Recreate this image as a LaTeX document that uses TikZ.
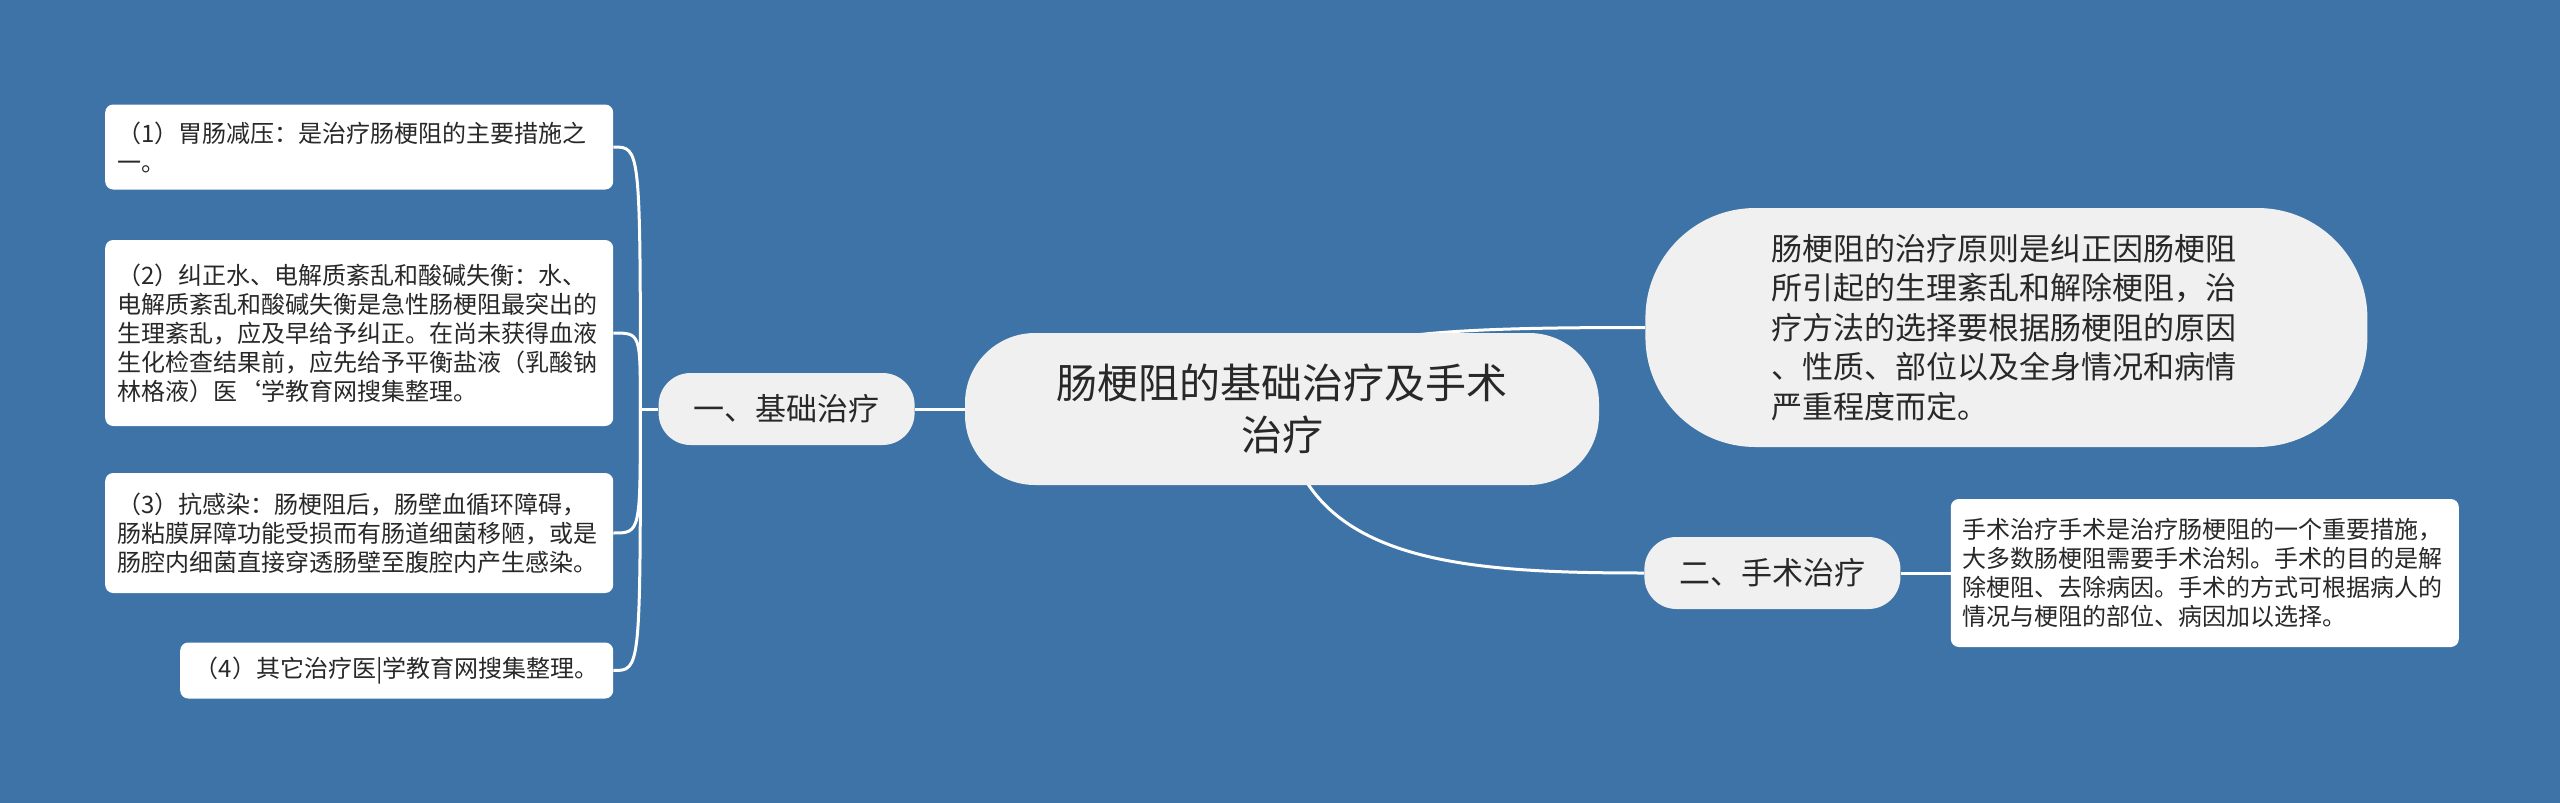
\documentclass[tikz,border=0pt]{standalone}
\usepackage{fontspec}
\setmainfont{Noto Sans CJK SC}
\usetikzlibrary{positioning,backgrounds}

\definecolor{bgblue}{RGB}{61,115,166}
\definecolor{nodegray}{RGB}{240,240,240}
\definecolor{txtgray}{RGB}{40,40,40}

\begin{document}
\begin{tikzpicture}[x=1pt,y=-1pt,
        hub/.style={fill=nodegray,text=txtgray,rounded corners=70pt,minimum width=634pt,minimum height=152pt,align=center,font=\fontsize{41}{52}\selectfont},
        topic/.style={fill=nodegray,text=txtgray,rounded corners=32pt,minimum width=256pt,minimum height=72pt,font=\fontsize{31}{39.5}\selectfont},
        note/.style={fill=white,text=txtgray,rounded corners=8pt,inner xsep=12pt,text width=484pt,align=left,font=\fontsize{24}{29}\selectfont},
        conn/.style={draw=white,line width=3pt}]

                \node[hub] (root) at (1282,409) {肠梗阻的基础治疗及手术\\治疗};

                \node[topic] (br1) [left=50pt of root] {一、基础治疗};

                \node[topic] (br2) [right=45pt of root,yshift=-164pt] {二、手术治疗};

                \node[hub,rounded corners=110pt,minimum width=722pt,minimum height=239pt,text width=470pt,align=left,font=\fontsize{31}{39.5}\selectfont] (rule) [right=46pt of root,yshift=81.5pt]
                        {肠梗阻的治疗原则是纠正因肠梗阻\\所引起的生理紊乱和解除梗阻，治\\疗方法的选择要根据肠梗阻的原因\\、性质、部位以及全身情况和病情\\严重程度而定。};

                \node[note,minimum height=148pt] (op) [right=50pt of br2]
                        {手术治疗手术是治疗肠梗阻的一个重要措施，\\大多数肠梗阻需要手术治矧。手术的目的是解\\除梗阻、去除病因。手术的方式可根据病人的\\情况与梗阻的部位、病因加以选择。};

                \node[note,minimum height=85pt] (l1) [left=45pt of br1,yshift=262pt]
                        {（1）胃肠减压：是治疗肠梗阻的主要措施之\\一。};

                \node[note,minimum height=186pt] (l2) [left=45pt of br1,yshift=76pt]
                        {（2）纠正水、电解质紊乱和酸碱失衡：水、\\电解质紊乱和酸碱失衡是急性肠梗阻最突出的\\生理紊乱，应及早给予纠正。在尚未获得血液\\生化检查结果前，应先给予平衡盐液（乳酸钠\\林格液）医\symbol{96}学教育网搜集整理。};

                \node[note,minimum height=120pt] (l3) [left=45pt of br1,yshift=-124pt]
                        {（3）抗感染：肠梗阻后，肠壁血循环障碍，\\肠粘膜屏障功能受损而有肠道细菌移陋，或是\\肠腔内细菌直接穿透肠壁至腹腔内产生感染。};

                \node[note,minimum height=56pt,text width=409pt,align=center] (l4) [left=45pt of br1,yshift=-261.5pt]
                        {（4）其它治疗医|学教育网搜集整理。};

                \coordinate (fork) at ([xshift=-18pt]br1.west);

                

                \begin{scope}[on background layer]

                \fill[bgblue] (0,0) rectangle (2560,803);

                \draw[conn] (br1) -- (root);

                \draw[conn] (br1.west) -- (fork);

                \draw[conn] (fork) .. controls (fork |- l1.east) .. (l1.east);

                \draw[conn] (fork) .. controls (fork |- l2.east) .. (l2.east);

                \draw[conn] (fork) .. controls (fork |- l3.east) .. (l3.east);

                \draw[conn] (fork) .. controls (fork |- l4.east) .. (l4.east);

                \draw[conn] (root.center) .. controls +(18,-74) and +(-245,0) .. (rule.west);

                \draw[conn] (root.center) .. controls +(18,151) and +(-194,0) .. (br2.west);

                \draw[conn] (br2) -- (op);

                \end{scope}

            \end{tikzpicture}
\end{document}
